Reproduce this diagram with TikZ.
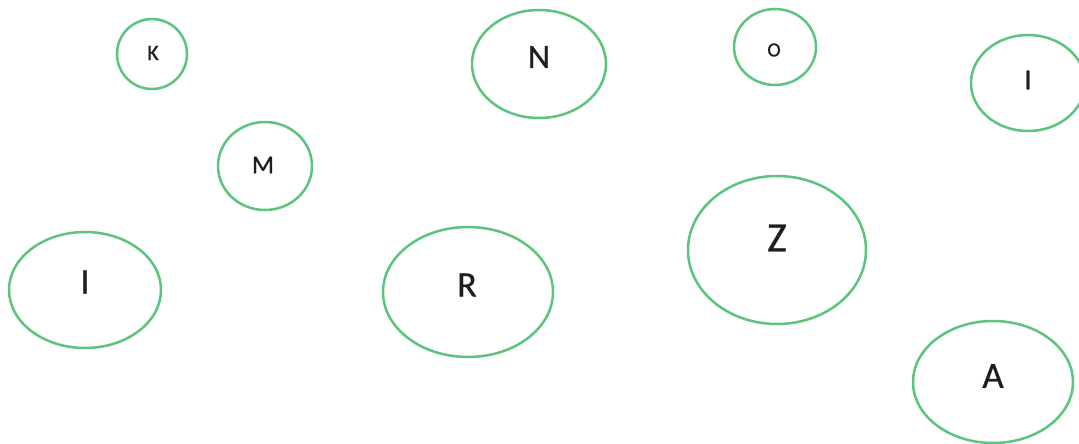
\documentclass[tikz,border=0pt]{standalone}
\usepackage{fontspec}
\setmainfont{Carlito}[FakeBold=0.6,BoldFont=Carlito]
\definecolor{ringgreen}{RGB}{92,196,124}
\definecolor{ink}{RGB}{30,30,30}
\begin{document}
\begin{tikzpicture}[x=1pt,y=-1pt,
  ring/.style={draw=ringgreen,line width=2.5pt},
  lbl/.style={inner sep=0pt,text=ink,anchor=center}]
\useasboundingbox (0,0) rectangle (1079,444);
\fill[white] (0,0) rectangle (1079,444);
% K
\draw[ring] (152,54) ellipse [x radius=35, y radius=35];
\node[lbl,font=\fontsize{22}{22}\selectfont\bfseries] (k) at (153,53) {K};
% N
\draw[ring] (539,64) ellipse [x radius=67, y radius=54];
\node[lbl,font=\fontsize{34}{34}\selectfont\bfseries] (n) at (539,57) {N};
% O
\draw[ring] (775,47) ellipse [x radius=41, y radius=38];
\node[lbl,font=\fontsize{20}{20}\selectfont\bfseries] (o) at (774,50) {O};
% I top right
\draw[ring] (1028,83) ellipse [x radius=57, y radius=48];
\node[lbl,font=\fontsize{29}{29}\selectfont\bfseries] (i1) at (1028,80) {I};
% M
\draw[ring] (265,166) ellipse [x radius=47, y radius=44];
\node[lbl,font=\fontsize{26}{26}\selectfont\bfseries] (m) at (263,165) {M};
% I left
\draw[ring] (85,290) ellipse [x radius=76, y radius=58];
\node[lbl,font=\fontsize{36}{36}\selectfont\bfseries] (i2) at (85,282) {I};
% R
\draw[ring] (468,292) ellipse [x radius=85, y radius=65];
\node[lbl,font=\fontsize{36}{36}\selectfont\bfseries] (r) at (467,285) {R};
% Z
\draw[ring] (777,250) ellipse [x radius=89, y radius=74];
\node[lbl,font=\fontsize{42}{42}\selectfont\bfseries] (z) at (777,238) {Z};
% A
\draw[ring] (993,382) ellipse [x radius=80, y radius=61];
\node[lbl,font=\fontsize{37}{37}\selectfont\bfseries] (a) at (993,376) {A};
\end{tikzpicture}
\end{document}
